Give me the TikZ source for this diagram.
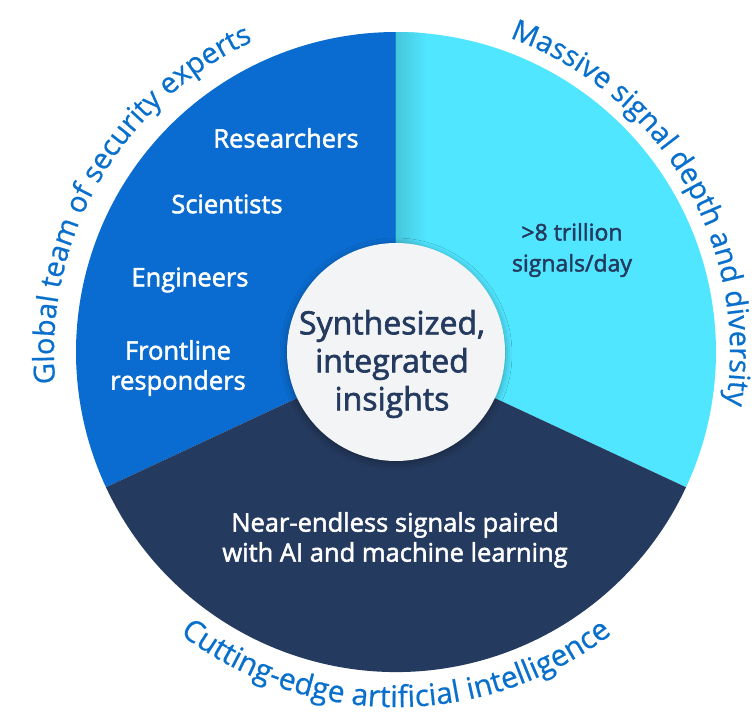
\documentclass[tikz,border=0pt]{standalone}
\usepackage{fontspec}
\setmainfont{Open Sans}
\newfontfamily\semibfont[FakeBold=2]{Open Sans}
\newfontfamily\arcfam[FakeBold=0.6]{Open Sans}
\usetikzlibrary{decorations.text,shadows.blur}
\definecolor{secblue}{RGB}{10,108,208}
\definecolor{seccyan}{RGB}{80,230,255}
\definecolor{secnavy}{RGB}{36,58,94}
\definecolor{outtext}{RGB}{8,112,204}
\definecolor{hubwhite}{RGB}{243,244,246}
\newcommand\arcfont{\arcfam\fontsize{29}{34}\selectfont\color{outtext}}
\newcommand\arcfontb{\arcfam\fontsize{30}{34}\selectfont\color{outtext}}
\begin{document}
\begin{tikzpicture}[x=1pt,y=1pt,
  innerw/.style={font=\semibfont\fontsize{25.5}{30}\selectfont, align=center, text=white, inner sep=0pt},
  innerd/.style={font=\semibfont\fontsize{23}{31}\selectfont, align=center, text=secnavy, inner sep=0pt},
  hubtext/.style={font=\semibfont\fontsize{32}{38}\selectfont, align=center, text=secnavy, inner sep=0pt},
  arctext/.style={color=outtext, decorate}]
\useasboundingbox (-396,-364) rectangle (360,352);
\coordinate (c) at (0,0);
% sectors
\fill[secblue] (c) -- (205:320) arc[start angle=205, end angle=90, radius=320] -- cycle;
\fill[seccyan] (c) -- (90:320) arc[start angle=90, end angle=-25, radius=320] -- cycle;
\fill[secnavy] (c) -- (205:320) arc[start angle=205, end angle=335, radius=320] -- cycle;
\begin{scope}
  \clip (c) -- (90:320) arc[start angle=90, end angle=-25, radius=320] -- cycle;
  \shade[left color=seccyan!86!black, right color=seccyan] (0,0) rectangle (30,330);
\end{scope}
% hub
\fill[hubwhite, blur shadow={shadow xshift=0pt, shadow yshift=-2pt, shadow blur radius=7pt, shadow opacity=35}] (c) circle (109);
% curved labels
\path[arctext, decoration={text along path, text align=center,
  text={|\arcfont|Global team of security experts}}]
  (215:342) arc[start angle=215, end angle=85, radius=342];
\path[arctext, decoration={text along path, text align=center,
  text={|\arcfont|Massive signal depth and diversity}}]
  (100:334) arc[start angle=100, end angle=-39, radius=334];
\path[arctext, decoration={text along path, text align=center,
  text={|\arcfontb|Cutting-edge artificial intelligence}}]
  (200:355) arc[start angle=200, end angle=340, radius=355];
% inner labels
\node[innerw] (res) at (-110,214) {Researchers};
\node[innerw] (sci) at (-169,148) {Scientists};
\node[innerw] (eng) at (-206,72) {Engineers};
\node[innerw] (fro) at (-218,-16) {Frontline\\responders};
\node[innerd] (sig) at (176,102) {>8 trillion\\signals/day};
\node[hubtext] (syn) at (-4,-12) {Synthesized,\\integrated\\insights};
\node[innerw] (ai) at (-1,-188) {Near-endless signals paired\\with AI and machine learning};
\end{tikzpicture}
\end{document}
